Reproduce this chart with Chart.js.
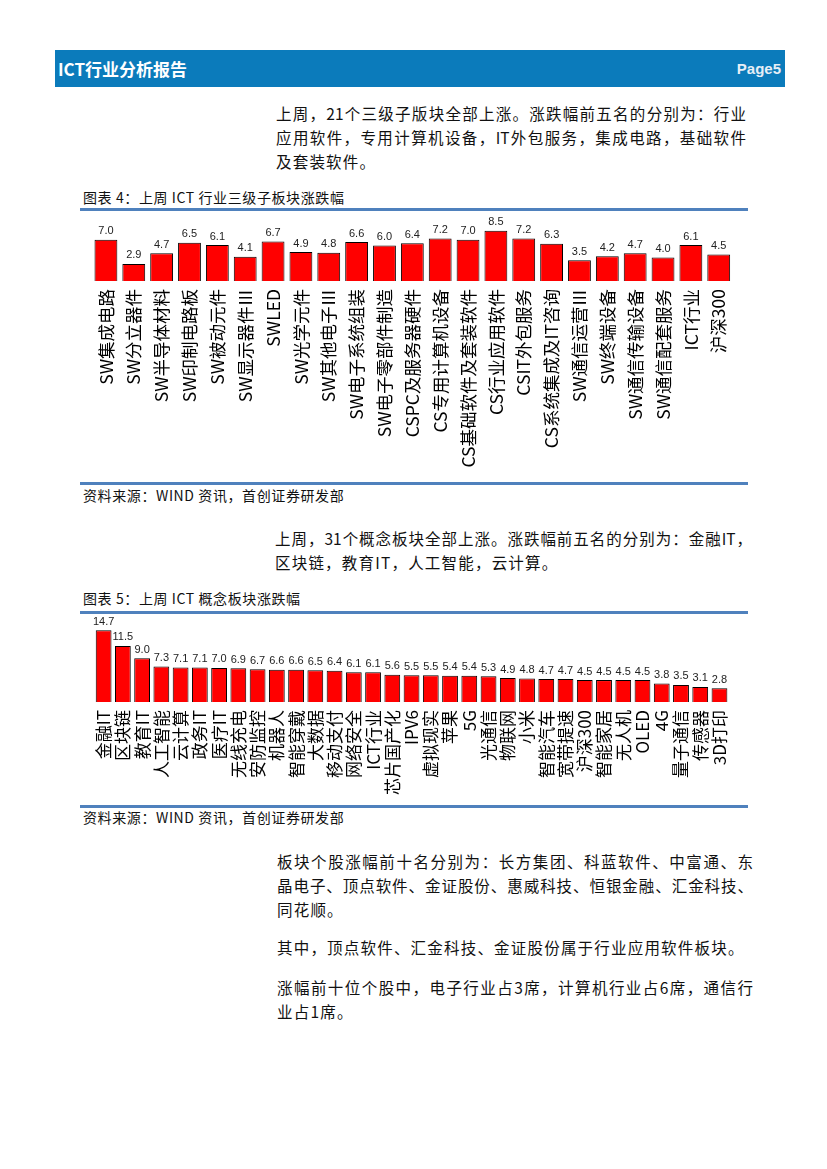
<!DOCTYPE html>
<html>
<head>
<meta charset="utf-8">
<script src="https://cdn.jsdelivr.net/npm/chart.js@4"></script>
<style>
  body { margin: 0; background: #fff; }
  #page { position: relative; width: 827px; height: 1169px; font-family: "Noto Sans CJK SC", sans-serif; color: #111; }
  .abs { position: absolute; }
  #header { left: 55px; top: 50px; width: 730px; height: 37px; background: #0b7bbb; }
  #header .t { position: absolute; left: 3px; top: 0; line-height: 37px; color: #fff; font-weight: bold; font-size: 17px; }
  #header .p { position: absolute; right: 4px; top: 0; line-height: 37px; color: #e6eef6; font-weight: bold; font-size: 15px; font-family: "Liberation Sans", Arial, sans-serif; }
  .para div { font-size: 15.5px; letter-spacing: 1.2px; line-height: 24px; height: 24px; white-space: nowrap; }
  .para div.j { text-align: justify; text-align-last: justify; letter-spacing: 0; }
  .rule { height: 3px; background: #4f81bd; left: 80px; width: 668px; }
  .cap { font-size: 14px; letter-spacing: 0.6px; line-height: 16px; left: 83px; color: #111; }
</style>
</head>
<body>
<div id="page">
  <div id="header" class="abs"><span class="t">ICT行业分析报告</span><span class="p">Page5</span></div>

  <div class="abs para" style="left:276px; top:101px; width:470px;">
    <div class="j">上周，21个三级子版块全部上涨。涨跌幅前五名的分别为：行业</div>
    <div class="j">应用软件，专用计算机设备，IT外包服务，集成电路，基础软件</div>
    <div>及套装软件。</div>
  </div>

  <div class="abs cap" style="top:189px;">图表 4：上周 ICT 行业三级子板块涨跌幅</div>
  <div class="abs rule" style="top:208px;"></div>
  <canvas id="chart1" class="abs" style="left:80px; top:212px;" width="668" height="268"></canvas>
  <div class="abs rule" style="top:482px;"></div>
  <div class="abs cap" style="top:487px;">资料来源：WIND 资讯，首创证券研发部</div>

  <div class="abs para" style="left:275px; top:526px; width:477px;">
    <div class="j">上周，31个概念板块全部上涨。涨跌幅前五名的分别为：金融IT，</div>
    <div>区块链，教育IT，人工智能，云计算。</div>
  </div>

  <div class="abs cap" style="top:590px;">图表 5：上周 ICT 概念板块涨跌幅</div>
  <div class="abs rule" style="top:611px;"></div>
  <canvas id="chart2" class="abs" style="left:80px; top:614px;" width="668" height="190"></canvas>
  <div class="abs rule" style="top:805px;"></div>
  <div class="abs cap" style="top:809px;">资料来源：WIND 资讯，首创证券研发部</div>

  <div class="abs para" style="left:277px; top:849px; width:476px;">
    <div class="j">板块个股涨幅前十名分别为：长方集团、科蓝软件、中富通、东</div>
    <div class="j">晶电子、顶点软件、金证股份、惠威科技、恒银金融、汇金科技、</div>
    <div>同花顺。</div>
  </div>
  <div class="abs para" style="left:277px; top:935px; width:476px;">
    <div>其中，顶点软件、汇金科技、金证股份属于行业应用软件板块。</div>
  </div>
  <div class="abs para" style="left:277px; top:975px; width:476px;">
    <div class="j">涨幅前十位个股中，电子行业占3席，计算机行业占6席，通信行</div>
    <div>业占1席。</div>
  </div>
</div>

<script>
// 图表4 三级子板块
var sectors = ['SW集成电路', 'SW分立器件', 'SW半导体材料', 'SW印制电路板', 'SW被动元件', 'SW显示器件Ⅲ',
  'SWLED', 'SW光学元件', 'SW其他电子Ⅲ', 'SW电子系统组装', 'SW电子零部件制造', 'CSPC及服务器硬件',
  'CS专用计算机设备', 'CS基础软件及套装软件', 'CS行业应用软件', 'CSIT外包服务', 'CS系统集成及IT咨询',
  'SW通信运营Ⅲ', 'SW终端设备', 'SW通信传输设备', 'SW通信配套服务', 'ICT行业', '沪深300'];
var sectorChange = [7.0, 2.9, 4.7, 6.5, 6.1, 4.1, 6.7, 4.9, 4.8, 6.6, 6.0, 6.4,
  7.2, 7.0, 8.5, 7.2, 6.3, 3.5, 4.2, 4.7, 4.0, 6.1, 4.5];

// 图表5 概念板块
var concepts = ['金融IT', '区块链', '教育IT', '人工智能', '云计算', '政务IT', '医疗IT', '无线充电', '安防监控',
  '机器人', '智能穿戴', '大数据', '移动支付', '网络安全', 'ICT行业', '芯片国产化', 'IPV6', '虚拟现实', '苹果',
  '5G', '光通信', '物联网', '小米', '智能汽车', '宽带提速', '沪深300', '智能家居', '无人机', 'OLED', '4G',
  '量子通信', '传感器', '3D打印'];
var conceptChange = [14.7, 11.5, 9.0, 7.3, 7.1, 7.1, 7.0, 6.9, 6.7, 6.6, 6.6, 6.5, 6.4, 6.1, 6.1, 5.6, 5.5, 5.5, 5.4,
  5.4, 5.3, 4.9, 4.8, 4.7, 4.7, 4.5, 4.5, 4.5, 4.5, 3.8, 3.5, 3.1, 2.8];

// simple value labels above the bars (no datalabels plugin offline)
var valueLabels = {
  id: 'valueLabels',
  afterDatasetsDraw: function (chart) {
    var ctx = chart.ctx;
    var meta = chart.getDatasetMeta(0);
    var data = chart.data.datasets[0].data;
    ctx.save();
    ctx.font = '11px "Liberation Sans", Arial, sans-serif';
    ctx.fillStyle = '#222';
    ctx.textAlign = 'center';
    ctx.textBaseline = 'bottom';
    meta.data.forEach(function (bar, i) {
      ctx.fillText(data[i].toFixed(1), bar.x, bar.y - 3);
    });
    ctx.restore();
  }
};

function makeBar(id, labels, values, yMax, axisHeight, pad, fontSize) {
  new Chart(document.getElementById(id).getContext('2d'), {
    type: 'bar',
    data: {
      labels: labels,
      datasets: [{
        data: values,
        backgroundColor: '#ff0000',
        borderColor: '#000',
        borderWidth: 1,
        categoryPercentage: 1,
        barPercentage: 0.82
      }]
    },
    options: {
      responsive: false,
      animation: false,
      layout: { padding: pad },
      plugins: { legend: { display: false }, tooltip: { enabled: false } },
      scales: {
        x: {
          grid: { display: false, drawTicks: false },
          border: { display: false },
          ticks: {
            autoSkip: false,
            minRotation: 90,
            maxRotation: 90,
            padding: 8,
            color: '#000',
            font: { family: '"Noto Sans CJK SC", sans-serif', size: fontSize }
          },
          afterFit: function (s) { s.height = axisHeight; }
        },
        y: { display: false, min: 0, max: yMax }
      }
    },
    plugins: [valueLabels]
  });
}

makeBar('chart1', sectors, sectorChange, 10, 199, { top: 10, left: 12, right: 12, bottom: 0 }, 17.5);
makeBar('chart2', concepts, conceptChange, 16, 102, { top: 10, left: 14, right: 8, bottom: 0 }, 17);
</script>
</body>
</html>
